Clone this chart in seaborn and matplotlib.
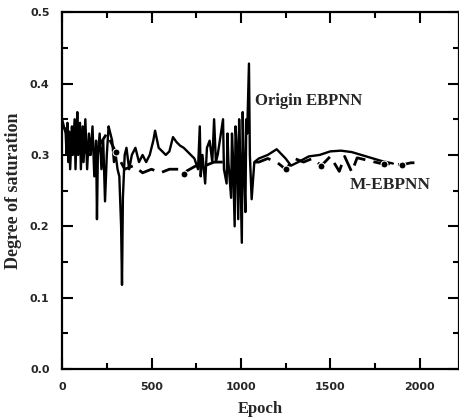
import numpy as np
import pandas as pd
import matplotlib
matplotlib.use("Agg")
import matplotlib.pyplot as plt
from matplotlib.ticker import MultipleLocator
import seaborn as sns

origin_epoch = [0, 10, 20, 25, 30, 35, 40, 45, 55, 60, 70, 75, 85, 90, 100, 105, 115, 120, 130, 140,
                150, 160, 170, 180, 190, 195, 200, 210, 220, 230, 240, 250, 260, 270, 280, 290, 300, 310,
                320, 330, 335, 340, 350, 360, 375, 390, 410, 430, 450, 470, 490, 510, 520, 540, 560, 580,
                600, 620, 640, 660, 680, 700, 720, 740, 760, 770, 775, 785, 800, 810, 825, 840, 850, 860,
                870, 900, 905, 920, 925, 930, 945, 950, 955, 965, 970, 975, 985, 990, 995, 1005, 1010, 1015,
                1025, 1030, 1035, 1045, 1050, 1060, 1075, 1100, 1150, 1200, 1250, 1280, 1320, 1380, 1440,
                1500, 1560, 1620, 1700, 1780, 1850]
origin_val = [0.35, 0.34, 0.33, 0.30, 0.345, 0.29, 0.33, 0.28, 0.34, 0.30, 0.35, 0.28, 0.36, 0.30, 0.345,
              0.28, 0.34, 0.29, 0.35, 0.28, 0.33, 0.30, 0.34, 0.27, 0.32, 0.21, 0.30, 0.33, 0.28, 0.32,
              0.235, 0.30, 0.34, 0.33, 0.32, 0.29, 0.30, 0.28, 0.27, 0.20, 0.118, 0.24, 0.30, 0.31, 0.28,
              0.30, 0.31, 0.29, 0.30, 0.29, 0.30, 0.32, 0.334, 0.31, 0.305, 0.30, 0.305, 0.325, 0.318,
              0.313, 0.31, 0.305, 0.30, 0.295, 0.28, 0.34, 0.27, 0.30, 0.26, 0.31, 0.32, 0.29, 0.35, 0.29,
              0.30, 0.35, 0.28, 0.26, 0.33, 0.29, 0.24, 0.33, 0.30, 0.20, 0.34, 0.32, 0.21, 0.35, 0.30,
              0.177, 0.36, 0.30, 0.22, 0.35, 0.33, 0.428, 0.30, 0.238, 0.29, 0.295, 0.30, 0.308, 0.295,
              0.285, 0.29, 0.298, 0.30, 0.305, 0.306, 0.304, 0.298, 0.292, 0.288]

m_epoch = [0, 50, 100, 150, 200, 250, 300, 350, 400, 450, 500, 550, 600, 650, 680, 700, 750, 800, 850,
           900, 950, 1000, 1050, 1100, 1150, 1200, 1250, 1300, 1350, 1400, 1450, 1500, 1550, 1580, 1620,
           1650, 1700, 1750, 1800, 1850, 1900, 1950, 2000]
m_val = [0.34, 0.33, 0.31, 0.30, 0.31, 0.33, 0.304, 0.28, 0.285, 0.275, 0.28, 0.275, 0.28, 0.28, 0.273,
         0.278, 0.285, 0.285, 0.29, 0.29, 0.29, 0.285, 0.29, 0.29, 0.295, 0.29, 0.28, 0.295, 0.29, 0.295,
         0.285, 0.298, 0.277, 0.298, 0.276, 0.296, 0.293, 0.29, 0.287, 0.288, 0.286, 0.289, 0.289]
m_marker_idx = [6, 14, 26, 30, 38, 40]

x_ticks = [0, 500, 1000, 1500, 2000]
y_ticks = [0.0, 0.1, 0.2, 0.3, 0.4, 0.5]

sns.set_style("ticks")
plt.rcParams['font.family'] = ['DejaVu Sans']

fig = plt.figure(figsize=(4.6, 4.19), dpi=100)
ax = fig.add_axes([0.135, 0.119, 0.863, 0.852])

df_o = pd.DataFrame({"epoch": origin_epoch, "val": origin_val})
df_m = pd.DataFrame({"epoch": m_epoch, "val": m_val})
sns.lineplot(data=df_o, x="epoch", y="val", ax=ax, color="black", linewidth=1.7, estimator=None, sort=False)
sns.lineplot(data=df_m, x="epoch", y="val", ax=ax, color="black", linewidth=2.0, estimator=None,
             sort=False, linestyle=(0, (6, 3)), marker="o", markersize=5, markevery=m_marker_idx)

ax.set_xlim(0, 2220)
ax.set_ylim(0, 0.5)
ax.set_xticks(x_ticks)
ax.set_yticks(y_ticks)
ax.xaxis.set_minor_locator(MultipleLocator(250))
ax.yaxis.set_minor_locator(MultipleLocator(0.05))
ax.set_xticklabels([str(v) for v in x_ticks], fontweight="bold", fontsize=8)
ax.set_yticklabels([f"{v:.1f}" for v in y_ticks], fontweight="bold", fontsize=8)
ax.tick_params(which="both", direction="in", top=True, right=True, width=1.5, color="black")
ax.tick_params(which="major", length=8, pad=9)
ax.tick_params(which="minor", length=4)
for s in ax.spines.values():
    s.set_linewidth(1.6)
    s.set_color("black")

ax.set_xlabel("Epoch", fontfamily="Liberation Serif", fontweight="bold", fontsize=12, labelpad=7)
ax.set_ylabel("Degree of saturation", fontfamily="Liberation Serif", fontweight="bold", fontsize=13, labelpad=6)

ax.text(1080, 0.376, "Origin EBPNN", fontfamily="Liberation Serif", fontweight="bold", fontsize=12, ha="left", va="center")
ax.text(1610, 0.258, "M-EBPNN", fontfamily="Liberation Serif", fontweight="bold", fontsize=12.5, ha="left", va="center")

fig.savefig("out.png", dpi=100)
